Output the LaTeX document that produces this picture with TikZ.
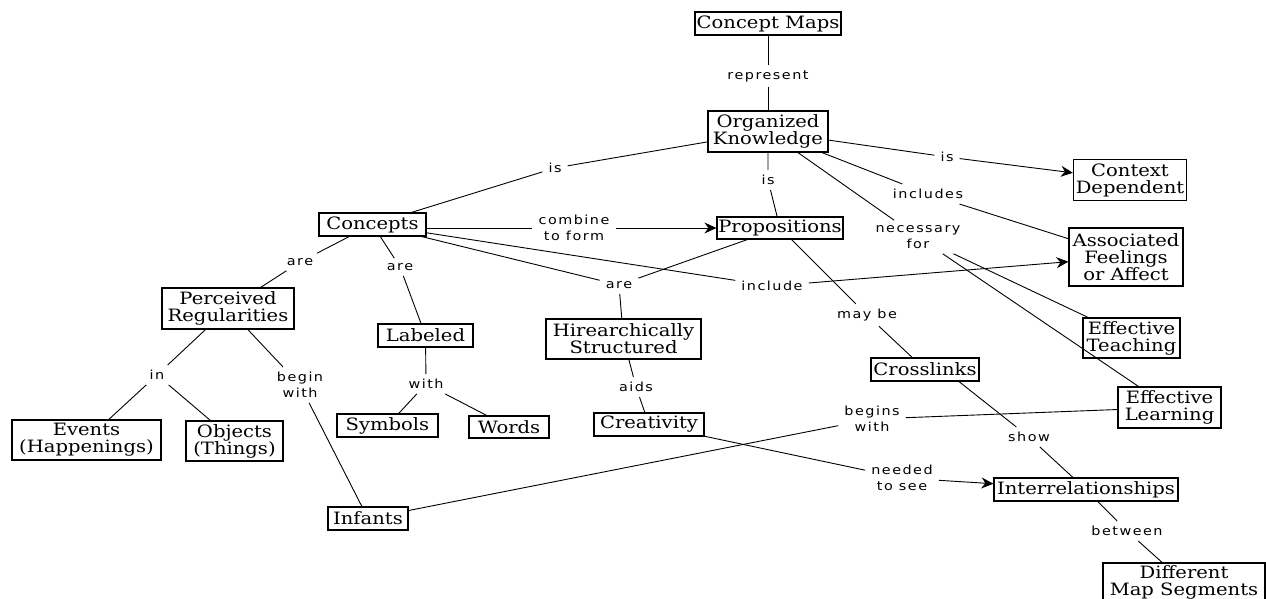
\documentclass[tikz,border=0pt]{standalone}
\usepackage{fontspec}
\setmainfont[FakeStretch=1.15]{DejaVu Serif}
\newfontfamily\lblfont[FakeStretch=1.15,LetterSpace=12]{DejaVu Sans}
\usetikzlibrary{arrows.meta}
\tikzset{
  concept/.style={draw, line width=1.2pt, inner sep=0pt, align=center,
    font=\fontsize{17}{17}\selectfont},
  cbox/.style 2 args={concept, minimum width=#1, minimum height=#2},
  lbl/.style={inner xsep=6pt, inner ysep=5pt, align=center,
    font=\lblfont\fontsize{12.5}{16}\selectfont},
  link/.style={line width=0.9pt},
  arr/.style={link, -{Stealth[length=12pt,width=11pt,inset=4pt]}}
}
\begin{document}
\begin{tikzpicture}[x=1pt,y=-1pt]
\useasboundingbox (0,0) rectangle (1266,599);
% concept nodes
\node[cbox={146}{23}] (cm)    at (768,23.5)   {Concept Maps};
\node[cbox={120}{41}] (ok)    at (768,131.5)  {Organized\\Knowledge};
\node[cbox={113}{41}] (cd)    at (1130,180)   {Context\\Dependent};
\node[cbox={126}{22}] (prop)  at (780,228)    {Propositions};
\node[cbox={114}{58}] (afa)   at (1126,257)   {Associated\\Feelings\\or Affect};
\node[cbox={97}{40}]  (et)    at (1131.5,338) {Effective\\Teaching};
\node[cbox={108}{23}] (cl)    at (925,369.5)  {Crosslinks};
\node[cbox={103}{41}] (el)    at (1169.5,407.5) {Effective\\Learning};
\node[cbox={184}{23}] (inter) at (1086,489.5) {Interrelationships};
\node[cbox={162}{38}] (dms)   at (1184,582)   {Different\\Map Segments};
\node[cbox={107}{23}] (conc)  at (372.5,224.5) {Concepts};
\node[cbox={132}{41}] (pr)    at (228,308.5)  {Perceived\\Regularities};
\node[cbox={95}{23}]  (lab)   at (425.5,335.5) {Labeled};
\node[cbox={155}{40}] (hs)    at (623.5,339)  {Hirearchically\\Structured};
\node[cbox={101}{23}] (sym)   at (387.5,425.5) {Symbols};
\node[cbox={80}{22}]  (words) at (509,427)    {Words};
\node[cbox={110}{23}] (crea)  at (649,424.5)  {Creativity};
\node[cbox={80}{23}]  (inf)   at (368,518.5)  {Infants};
\node[cbox={149}{40}] (ev)    at (86.5,440)   {Events\\(Happenings)};
\node[cbox={97}{40}]  (obj)   at (234.5,441)  {Objects\\(Things)};
% link labels
\node[lbl] (rep)   at (768,76)   {represent};
\node[lbl] (is1)   at (555,168)  {is};
\node[lbl] (is2)   at (947,157)  {is};
\node[lbl] (is3)   at (768,180)  {is};
\node[lbl] (incl)  at (928,194)  {includes};
\node[lbl] (nec)   at (918,237)  {necessary\\for};
\node[lbl] (inc)   at (772,286)  {include};
\node[lbl] (maybe) at (867,315)  {may be};
\node[lbl] (cf)    at (574,228)  {combine\\to form};
\node[lbl] (are1)  at (300,262)  {are};
\node[lbl] (are2)  at (400,267)  {are};
\node[lbl] (are3)  at (619,285)  {are};
\node[lbl] (in)    at (157,375)  {in};
\node[lbl] (bw)    at (300,385)  {begin\\with};
\node[lbl] (with)  at (426,384)  {with};
\node[lbl] (aids)  at (636,387)  {aids};
\node[lbl] (bgw)   at (872,419)  {begins\\with};
\node[lbl] (show)  at (1029,437) {show};
\node[lbl] (nts)   at (902,478)  {needed\\to see};
\node[lbl] (betw)  at (1127,531) {between};
% connectors
\draw[link] (cm) -- (rep) -- (ok);
\draw[link] (ok) -- (is1) -- (conc);
\draw[link] (ok) -- (is2);
\draw[arr]  (is2) -- (cd);
\draw[link] (ok) -- (is3) -- (prop);
\draw[link] (ok) -- (incl) -- (afa);
\draw[link] (ok) -- (nec);
\draw[link] (nec) -- (et);
\draw[link] (nec) -- (el);
\draw[link] (conc.east |- cf) -- (cf);
\draw[arr]  (cf) -- (prop);
\draw[link] (conc) -- (inc);
\draw[arr]  (inc) -- (afa);
\draw[link] (conc) -- (are3);
\draw[link] (prop) -- (are3);
\draw[link] (are3) -- (hs);
\draw[link] (conc) -- (are1) -- (pr);
\draw[link] (conc) -- (are2) -- (lab);
\draw[link] (pr) -- (in) -- (ev);
\draw[link] (in) -- (obj);
\draw[link] (pr) -- (bw) -- (inf);
\draw[link] (lab) -- (with) -- (sym);
\draw[link] (with) -- (words);
\draw[link] (hs) -- (aids) -- (crea);
\draw[link] (crea) -- (nts);
\draw[arr]  (nts) -- (inter);
\draw[link] (inf) -- (bgw) -- (el);
\draw[link] (prop) -- (maybe) -- (cl);
\draw[link] ([xshift=34pt]cl.south) -- (show);
\draw[link] (show) -- (inter);
\draw[link] (inter) -- (betw) -- (dms);
\end{tikzpicture}
\end{document}
